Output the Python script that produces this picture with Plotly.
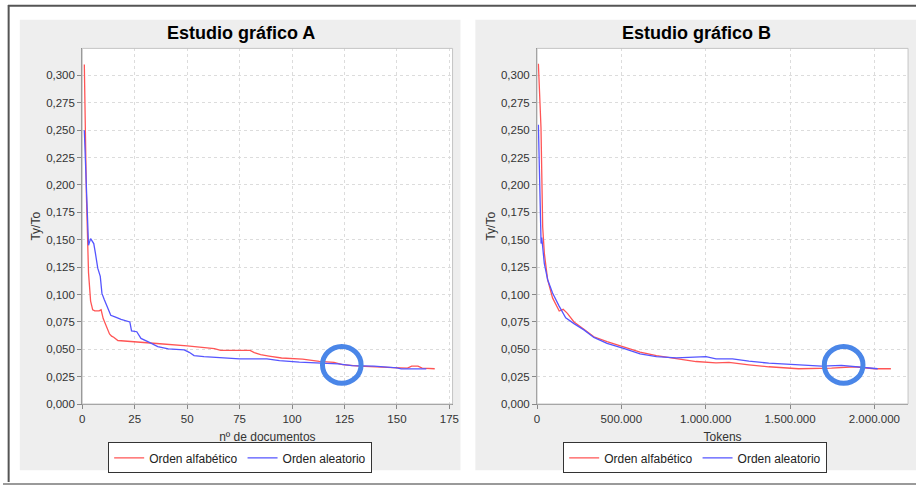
import plotly.graph_objects as go

W, H = 922, 492

# ---------------- data ----------------
docs_alfa = [1, 2, 3, 4, 5, 6, 8, 9, 10, 11, 12, 13, 14, 15, 17, 25, 37, 50, 63, 66, 80, 82, 85, 89,
             95, 105, 113, 120, 124, 132, 140, 148, 155, 157, 160, 162, 168]
ratio_docs_alfa = [0.310, 0.190, 0.120, 0.094, 0.086, 0.085, 0.085, 0.086, 0.078, 0.073, 0.068, 0.064,
                   0.062, 0.061, 0.058, 0.057, 0.055, 0.053, 0.0505, 0.049, 0.049, 0.047, 0.045, 0.0437,
                   0.042, 0.041, 0.039, 0.038, 0.036, 0.0346, 0.0337, 0.0333, 0.0328, 0.0346, 0.0346,
                   0.0328, 0.0322]

docs_alea = [1, 2, 3, 4, 5.5, 6.3, 7.4, 8.6, 9.4, 10.5, 12, 13.6, 15.6, 18.5, 22.7, 23.5, 26, 28, 32,
             36, 41, 48.6, 51, 53.3, 58, 66, 75, 88, 94, 103.5, 113, 122, 128.5, 137, 139, 150, 152,
             155, 163, 164]
ratio_docs_alea = [0.250, 0.190, 0.145, 0.151, 0.1465, 0.1375, 0.124, 0.1165, 0.101, 0.0954, 0.089,
                   0.081, 0.0795, 0.0773, 0.0749, 0.0668, 0.066, 0.0599, 0.0563, 0.0525, 0.0503,
                   0.0494, 0.0472, 0.0442, 0.0433, 0.0421, 0.0412, 0.0412, 0.0397, 0.0382, 0.0373,
                   0.0367, 0.035, 0.0346, 0.0346, 0.033, 0.032, 0.032, 0.032, 0.032]

tok_alfa = [8000, 23500, 33500, 43400, 62800, 92000, 131500, 155000, 180000, 219000, 278000, 337000,
            415000, 513000, 611000, 708000, 826000, 943000, 1061000, 1138000, 1256000, 1374000,
            1550000, 1746000, 1883000, 1961000, 2000000, 2098000]
ratio_tok_alfa = [0.3106, 0.252, 0.1616, 0.1375, 0.1135, 0.0969, 0.0849, 0.0864, 0.0828, 0.0749,
                  0.0683, 0.0614, 0.0569, 0.0518, 0.0473, 0.0442, 0.0412, 0.0388, 0.0376, 0.038,
                  0.0358, 0.034, 0.0322, 0.0328, 0.034, 0.0328, 0.0322, 0.0322]

tok_alea = [8000, 20000, 24000, 28000, 43000, 63000, 92000, 131000, 170000, 219000, 278000, 337000,
            415000, 513000, 611000, 708000, 826000, 1002000, 1061000, 1159000, 1256000, 1374000,
            1550000, 1687000, 1805000, 1922000, 2020000]
ratio_tok_alea = [0.255, 0.150, 0.1465, 0.152, 0.1285, 0.1135, 0.1014, 0.0894, 0.0788, 0.0734,
                  0.0677, 0.0608, 0.0554, 0.0509, 0.0458, 0.0433, 0.0421, 0.0433, 0.0412, 0.0412,
                  0.0391, 0.0373, 0.0361, 0.0346, 0.0352, 0.0337, 0.0322]

titles = ["Estudio gráfico A", "Estudio gráfico B"]
x_titles = ["nº de documentos", "Tokens"]
y_title = "Ty/To"
series_names = ["Orden alfabético", "Orden aleatorio"]
# highlighted points (circle centres) per chart
highlight_a = (123.7, 0.0357)
highlight_b = (1818000, 0.0357)

RED = "#ff5555"
BLUE = "#5555ff"
FONT = "Liberation Sans, Arial, sans-serif"


def px(x):
    return x / W


def py(y):
    return 1 - y / H


fig = go.Figure()
fig.add_trace(go.Scatter(x=docs_alfa, y=ratio_docs_alfa, mode="lines", name=series_names[0],
                         line=dict(color=RED, width=1.3), xaxis="x", yaxis="y", legend="legend"))
fig.add_trace(go.Scatter(x=docs_alea, y=ratio_docs_alea, mode="lines", name=series_names[1],
                         line=dict(color=BLUE, width=1.3), xaxis="x", yaxis="y", legend="legend"))
fig.add_trace(go.Scatter(x=tok_alfa, y=ratio_tok_alfa, mode="lines", name=series_names[0],
                         line=dict(color=RED, width=1.3), xaxis="x2", yaxis="y2", legend="legend2"))
fig.add_trace(go.Scatter(x=tok_alea, y=ratio_tok_alea, mode="lines", name=series_names[1],
                         line=dict(color=BLUE, width=1.3), xaxis="x2", yaxis="y2", legend="legend2"))

grid = dict(showgrid=True, gridcolor="#dcdcdc", griddash="3px,3px", gridwidth=1,
            showline=True, linecolor="#888888", linewidth=1, ticks="outside", ticklen=4,
            tickcolor="#888888", tickfont=dict(family=FONT, size=11.5, color="#333333"),
            zeroline=False)

legend_common = dict(orientation="h", yanchor="middle", xanchor="center", y=py(463.5),
                     bgcolor="white", bordercolor="#333333", borderwidth=1, itemwidth=30,
                     font=dict(family=FONT, size=12, color="#222222"), tracegroupgap=0,
                     itemclick=False)

ydom = [py(409), py(49)]
fig.update_layout(
    width=W, height=H, margin=dict(l=0, r=0, t=0, b=0),
    paper_bgcolor="white", plot_bgcolor="white",
    separators=",.",
    showlegend=True,
    xaxis=dict(domain=[px(80), px(454)], range=[0, 176.5], tickvals=[0, 25, 50, 75, 100, 125, 150, 175],
               title=dict(text=x_titles[0], font=dict(family=FONT, size=12, color="#333333"), standoff=8),
               anchor="y", **grid),
    yaxis=dict(domain=ydom, range=[0, 0.3247], dtick=0.025, tick0=0, tickformat=".3f",
               title=dict(text=y_title, font=dict(family=FONT, size=12, color="#333333"), standoff=2),
               anchor="x", **grid),
    xaxis2=dict(domain=[px(539.3), px(914)], range=[0, 2200000], dtick=500000, tick0=0,
                tickformat=",.0f",
                title=dict(text=x_titles[1], font=dict(family=FONT, size=12, color="#333333"), standoff=8),
                anchor="y2", **grid),
    yaxis2=dict(domain=ydom, range=[0, 0.3247], dtick=0.025, tick0=0, tickformat=".3f",
                title=dict(text=y_title, font=dict(family=FONT, size=12, color="#333333"), standoff=2),
                anchor="x2", **grid),
    legend=dict(x=px(239.5), **legend_common),
    legend2=dict(x=px(699), **legend_common),
)

shapes = []
# panel backgrounds
shapes.append(dict(type="rect", xref="paper", yref="paper", x0=px(17), x1=px(462), y0=py(476), y1=py(20),
                   fillcolor="#eeeeee", line=dict(width=0), layer="below"))
shapes.append(dict(type="rect", xref="paper", yref="paper", x0=px(477), x1=px(922), y0=py(476), y1=py(20),
                   fillcolor="#eeeeee", line=dict(width=0), layer="below"))
# white plot areas + light outline
for xa, ya in (("x", "y"), ("x2", "y2")):
    shapes.append(dict(type="rect", xref=f"{xa} domain", yref=f"{ya} domain", x0=0, x1=1, y0=0, y1=1,
                       fillcolor="white", line=dict(width=0), layer="below"))
    shapes.append(dict(type="rect", xref=f"{xa} domain", yref=f"{ya} domain", x0=0, x1=1, y0=0, y1=1,
                       fillcolor="rgba(0,0,0,0)", line=dict(width=1, color="#c4c4c4"), layer="above"))
# outer frame
shapes.append(dict(type="line", xref="paper", yref="paper", x0=px(5), x1=1, y0=py(5.7), y1=py(5.7),
                   line=dict(color="#555555", width=2)))
shapes.append(dict(type="line", xref="paper", yref="paper", x0=px(5.7), x1=px(5.7), y0=py(488), y1=py(5),
                   line=dict(color="#555555", width=2)))
shapes.append(dict(type="line", xref="paper", yref="paper", x0=0, x1=1, y0=py(490), y1=py(490),
                   line=dict(color="#9a9a9a", width=2)))
# highlight circles
rx_a, ry = 9.2, 0.0168
rx_b = 114500
for (cx, cy), rx, xa, ya in ((highlight_a, rx_a, "x", "y"), (highlight_b, rx_b, "x2", "y2")):
    shapes.append(dict(type="circle", xref=xa, yref=ya, x0=cx - rx, x1=cx + rx, y0=cy - ry, y1=cy + ry,
                       line=dict(color="#4a86e8", width=5), fillcolor="rgba(0,0,0,0)", layer="above"))
fig.update_layout(shapes=shapes)

fig.update_layout(annotations=[
    dict(text=f"<b>{titles[0]}</b>", xref="paper", yref="paper", x=px(240), y=py(33.5), showarrow=False,
         xanchor="center", yanchor="middle", font=dict(family=FONT, size=18, color="black")),
    dict(text=f"<b>{titles[1]}</b>", xref="paper", yref="paper", x=px(700), y=py(33.5), showarrow=False,
         xanchor="center", yanchor="middle", font=dict(family=FONT, size=18, color="black")),
])

fig.write_html("out.html", config={"displayModeBar": False},
               post_script="document.body.style.margin='0px';document.body.style.overflow='hidden';")
